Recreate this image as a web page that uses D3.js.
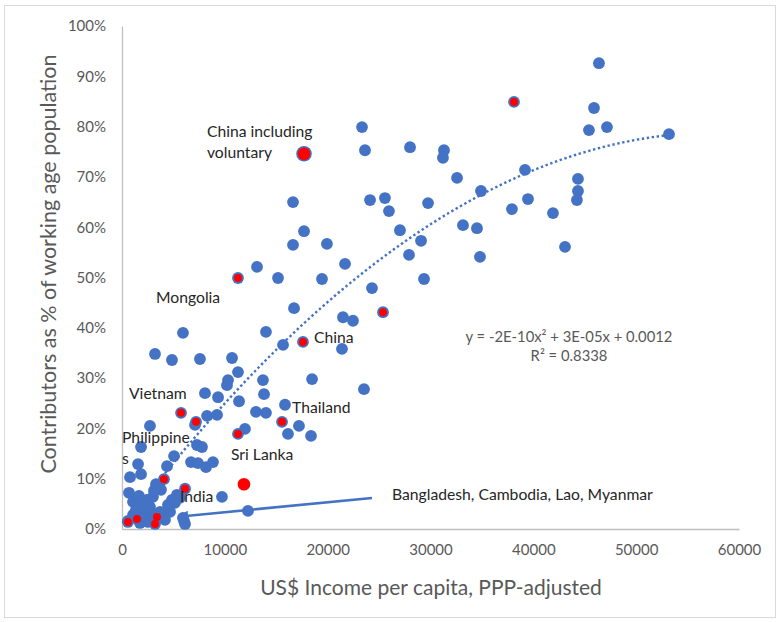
<!DOCTYPE html>
<html>
<head>
<meta charset="utf-8">
<script src="https://cdn.jsdelivr.net/npm/d3@7"></script>
<style>
  body { margin: 0; background: #fff; }
  svg { font-family: Lato, "Open Sans", sans-serif; }
</style>
</head>
<body>
<svg id="mainSvg" width="780" height="622"></svg>
<script>
// income per capita (PPP US$), contributors share of working age population
var bluePoints = [
  [46380,0.926],[45900,0.837],[45410,0.793],[47160,0.799],[53190,0.785],
  [23340,0.799],[23630,0.753],[28010,0.759],[31310,0.753],[31210,0.738],
  [39190,0.714],[32580,0.698],[44340,0.696],[44340,0.672],[34910,0.672],
  [44240,0.654],[39480,0.656],[37920,0.636],[41910,0.628],[43080,0.561],
  [33160,0.604],[34520,0.598],[34810,0.541],[29370,0.497],[29080,0.573],
  [27910,0.545],[27030,0.594],[29760,0.648],[24120,0.654],[25570,0.658],
  [25960,0.632],[16630,0.650],[17700,0.592],[16630,0.565],[19930,0.567],
  [21690,0.527],[13130,0.521],[15170,0.499],[19450,0.497],[24310,0.479],
  [16730,0.439],[21490,0.421],[22460,0.414],[14000,0.392],[15660,0.366],
  [21390,0.358],[5930,0.390],[3210,0.348],[4860,0.336],[7580,0.338],
  [10700,0.340],[11280,0.312],[10310,0.296],[10210,0.286],[13710,0.296],
  [18480,0.298],[23530,0.278],[8070,0.270],[9340,0.262],[11380,0.254],
  [13810,0.268],[15850,0.247],[7100,0.207],[8270,0.225],[9240,0.227],
  [13030,0.233],[14000,0.231],[17210,0.205],[16140,0.189],[18380,0.185],
  [11960,0.199],[2720,0.205],[1850,0.163],[7290,0.167],[7780,0.163],
  [5060,0.145],[4380,0.125],[1560,0.129],[1850,0.109],[780,0.103],
  [6710,0.133],[7390,0.131],[8170,0.123],[8850,0.133],[3310,0.089],
  [9720,0.064],[680,0.072],[4860,0.058],[5350,0.068],[3010,0.064],
  [12250,0.036],[6030,0.016],[6130,0.010],[3600,0.087],[3110,0.076],
  [3790,0.078],[5640,0.062],[5150,0.052],[1070,0.054],[1750,0.048],
  [2720,0.044],[3700,0.034],[4670,0.034],[1750,0.012],[2530,0.014],
  [1070,0.028],[2040,0.028],[5930,0.022],[2240,0.042],[1360,0.038],
  [580,0.016],[4180,0.018],[2920,0.030],[4470,0.048],[1650,0.066],
  [2430,0.058]
];

// highlighted (Asian) countries, small red markers
var redPoints = [
  [11280,0.499],[38120,0.849],[25380,0.431],[17600,0.372],[5740,0.231],
  [7200,0.213],[15560,0.213],[11280,0.189],[4080,0.099],[6130,0.080],
  [1460,0.020],[3400,0.024],[3210,0.010],[580,0.014]
];

// large red markers
var bigRedPoints = [
  { name: "China including voluntary", x: 17700, y: 0.746, ring: true },
  { name: "Sri Lanka", x: 11860, y: 0.089, ring: false }
];

var xTicks = [0, 10000, 20000, 30000, 40000, 50000, 60000];
var yTicks = [0, 0.1, 0.2, 0.3, 0.4, 0.5, 0.6, 0.7, 0.8, 0.9, 1.0];

// polynomial trendline y = a x^2 + b x + c
var trendCoef = { a: -2.35e-10, b: 2.72e-5, c: 0.0012 };
var equationText = ["y = -2E-10x\u00b2 + 3E-05x + 0.0012", "R\u00b2 = 0.8338"];

var labels = [
  { text: ["China including", "voluntary"], x: 207, y: 137 },
  { text: ["Mongolia"], x: 156, y: 303 },
  { text: ["China"], x: 314, y: 343 },
  { text: ["Vietnam"], x: 129, y: 399 },
  { text: ["Thailand"], x: 292, y: 413 },
  { text: ["Philippine", "s"], x: 122, y: 443 },
  { text: ["Sri Lanka"], x: 231, y: 460 },
  { text: ["India"], x: 180, y: 502 },
  { text: ["Bangladesh, Cambodia, Lao, Myanmar"], x: 392, y: 500 }
];

var blue = "#4472C4", red = "#FF0000", grey = "#595959";

var svg = d3.select("#mainSvg");

// chart area border
svg.append("rect")
  .attr("x", 4.5).attr("y", 5.5)
  .attr("width", 771).attr("height", 612)
  .attr("fill", "#fff")
  .attr("stroke", "#D9D9D9");

var x = d3.scaleLinear().domain([0, 60000]).range([122, 739]);
var y = d3.scaleLinear().domain([0, 1]).range([529, 26]);

// axes
var xAxis = svg.append("g")
  .attr("transform", "translate(0,529)")
  .call(d3.axisBottom(x).tickValues(xTicks).tickSize(0).tickPadding(15).tickFormat(d3.format("d")));
var yAxis = svg.append("g")
  .attr("transform", "translate(122,0)")
  .call(d3.axisLeft(y).tickValues(yTicks).tickSize(0).tickPadding(16).tickFormat(d3.format(".0%")));

[xAxis, yAxis].forEach(function(g) {
  g.select(".domain").attr("stroke", "#BFBFBF").attr("stroke-width", 1.3);
  g.selectAll("text").attr("fill", grey).style("font-size", "15px").style("font-family", "Lato");
});

// axis titles
svg.append("text")
  .attr("x", 431).attr("y", 595)
  .attr("text-anchor", "middle")
  .attr("fill", grey)
  .style("font-size", "21px")
  .text("US$ Income per capita, PPP-adjusted");

svg.append("text")
  .attr("transform", "translate(56,264) rotate(-90)")
  .attr("text-anchor", "middle")
  .attr("fill", grey)
  .style("font-size", "21.5px")
  .text("Contributors as % of working age population");

// trendline
var xMin = d3.min(bluePoints, function(d) { return d[0]; });
var xMax = d3.max(bluePoints, function(d) { return d[0]; });
var trendData = d3.range(xMin, xMax, 250).concat([xMax]).map(function(v) {
  return [v, trendCoef.a * v * v + trendCoef.b * v + trendCoef.c];
});
svg.append("path")
  .datum(trendData)
  .attr("fill", "none")
  .attr("stroke", blue)
  .attr("stroke-width", 2.4)
  .attr("stroke-dasharray", "2.4,2.6")
  .attr("d", d3.line().x(function(d) { return x(d[0]); }).y(function(d) { return y(d[1]); }));

// blue markers
svg.append("g").selectAll("circle")
  .data(bluePoints.concat(redPoints))
  .enter().append("circle")
  .attr("cx", function(d) { return x(d[0]); })
  .attr("cy", function(d) { return y(d[1]); })
  .attr("r", 5.9)
  .attr("fill", blue);

// red markers
svg.append("g").selectAll("circle")
  .data(redPoints)
  .enter().append("circle")
  .attr("cx", function(d) { return x(d[0]); })
  .attr("cy", function(d) { return y(d[1]); })
  .attr("r", 4)
  .attr("fill", red);

var big = svg.append("g").selectAll("g")
  .data(bigRedPoints)
  .enter().append("g");
big.filter(function(d) { return d.ring; }).append("circle")
  .attr("cx", function(d) { return x(d.x); })
  .attr("cy", function(d) { return y(d.y); })
  .attr("r", 7.8)
  .attr("fill", blue);
big.append("circle")
  .attr("cx", function(d) { return x(d.x); })
  .attr("cy", function(d) { return y(d.y); })
  .attr("r", 6.3)
  .attr("fill", red);

// arrow pointing at the Bangladesh / Cambodia / Lao / Myanmar group
svg.append("defs").append("marker")
  .attr("id", "arrowHead")
  .attr("viewBox", "0 0 10 10")
  .attr("refX", 2).attr("refY", 5)
  .attr("markerWidth", 4).attr("markerHeight", 4)
  .attr("orient", "auto-start-reverse")
  .append("path")
  .attr("d", "M0,0 L10,5 L0,10 z")
  .attr("fill", blue);

svg.append("line")
  .attr("x1", 372).attr("y1", 498)
  .attr("x2", 186).attr("y2", 516)
  .attr("stroke", blue)
  .attr("stroke-width", 2.6)
  .attr("marker-end", "url(#arrowHead)");

// point labels
labels.forEach(function(l) {
  var t = svg.append("text")
    .attr("x", l.x).attr("y", l.y)
    .attr("fill", "#262626")
    .style("font-size", "15.7px");
  l.text.forEach(function(line, i) {
    t.append("tspan").attr("x", l.x).attr("dy", i === 0 ? 0 : 21).text(line);
  });
});

// regression equation
var eq = svg.append("text")
  .attr("x", 569).attr("y", 342)
  .attr("text-anchor", "middle")
  .attr("fill", grey)
  .style("font-size", "14.8px");
equationText.forEach(function(line, i) {
  eq.append("tspan").attr("x", 569).attr("dy", i === 0 ? 0 : 19).text(line);
});
</script>
</body>
</html>
